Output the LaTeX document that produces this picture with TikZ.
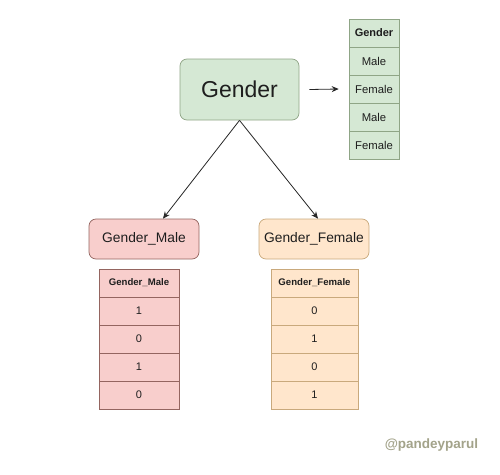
\documentclass[tikz,border=0pt]{standalone}
\usepackage{fontspec}
\setmainfont{Liberation Sans}
\usetikzlibrary{arrows.meta,calc}
\definecolor{gfill}{HTML}{D5E8D4}
\definecolor{gdraw}{HTML}{8FA586}
\definecolor{rfill}{HTML}{F8CECC}
\definecolor{rdraw}{HTML}{946560}
\definecolor{ofill}{HTML}{FFE6CC}
\definecolor{odraw}{HTML}{C9A97C}
\definecolor{txt}{HTML}{1E1E1E}
\definecolor{wm}{HTML}{A3A38A}
\tikzset{
  box/.style={rounded corners=7pt, line width=0.7pt, inner sep=0pt, align=center, text=txt},
  cell/.style={rectangle, line width=0.6pt, inner sep=0pt, align=center, minimum height=28pt, text=txt},
  conn/.style={line width=0.8pt, draw=black!85, -{Stealth[length=7pt,width=6pt]}},
}
\begin{document}
\begin{tikzpicture}[x=1pt,y=-1pt]
\useasboundingbox (0,0) rectangle (500,474);
% main node
\node[box, fill=gfill, draw=gdraw, minimum width=119pt, minimum height=61pt, font=\fontsize{23}{26}\selectfont] (g) at (239.5,89.5) {Gender};
% right table
\begin{scope}[every node/.style={cell, fill=gfill, draw=gdraw, minimum width=50pt, font=\fontsize{11.3}{13}\selectfont}]
\node[font=\fontsize{11}{13}\selectfont\bfseries] (t0) at (374,33) {Gender};
\node (t1) at (374,61) {Male};
\node (t2) at (374,89) {Female};
\node (t3) at (374,117) {Male};
\node (t4) at (374,145) {Female};
\end{scope}
% child nodes
\node[box, fill=rfill, draw=rdraw, minimum width=110pt, minimum height=40pt, font=\fontsize{13.8}{16}\selectfont] (gm) at (144,239) {Gender\_Male};
\node[box, fill=ofill, draw=odraw, minimum width=110pt, minimum height=40pt, font=\fontsize{13.8}{16}\selectfont] (gf) at (314,239) {Gender\_Female};
% male table
\begin{scope}[every node/.style={cell, fill=rfill, draw=rdraw, minimum width=80pt, font=\fontsize{11}{13}\selectfont}]
\node[font=\fontsize{9.6}{12}\selectfont\bfseries] (m0) at (139,283) {Gender\_Male};
\node (m1) at (139,311) {1};
\node (m2) at (139,339) {0};
\node (m3) at (139,367) {1};
\node (m4) at (139,395) {0};
\end{scope}
% female table
\begin{scope}[every node/.style={cell, fill=ofill, draw=odraw, minimum width=87pt, font=\fontsize{11}{13}\selectfont}]
\node[font=\fontsize{9.6}{12}\selectfont\bfseries] (f0) at (314.5,283) {Gender\_Female};
\node (f1) at (314.5,311) {0};
\node (f2) at (314.5,339) {1};
\node (f3) at (314.5,367) {0};
\node (f4) at (314.5,395) {1};
\end{scope}
% connectors
\draw[conn] (g.south) -- ([xshift=19pt]gm.north);
\draw[conn] (g.south) -- ([xshift=4pt]gf.north);
\draw[conn] ([xshift=10pt]g.east) -- ([xshift=-10pt]t2.west);
% watermark
\node[text=wm, font=\fontsize{13.5}{16}\selectfont\bfseries] (wmk) at (431.5,445) {@pandeyparul};
\end{tikzpicture}
\end{document}
